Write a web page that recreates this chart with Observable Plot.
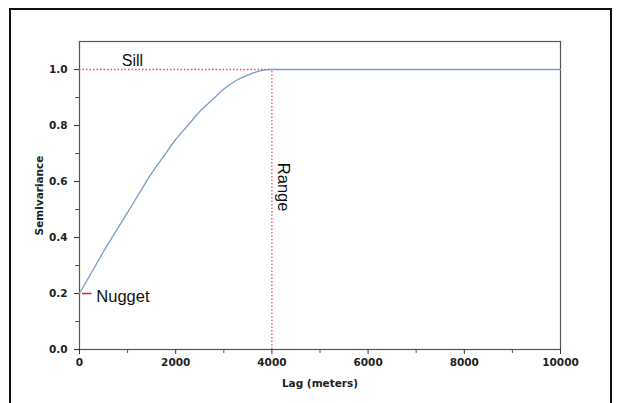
<!DOCTYPE html>
<html><head><meta charset="utf-8">
<script src="https://cdn.jsdelivr.net/npm/d3@7"></script>
<script src="https://cdn.jsdelivr.net/npm/@observablehq/plot@0.6"></script>
<style>
body{margin:0;background:#fff;overflow:hidden;}
#wrap{position:relative;width:617px;height:403px;}
#border{position:absolute;left:9px;top:8px;width:603px;height:420px;border:2px solid #111;box-sizing:border-box;pointer-events:none;}
</style></head>
<body><div id="wrap"><div id="border"></div></div>
<script>
// Semivariogram values
const lag = [0, 250, 500, 750, 1000, 1250, 1500, 1750, 2000, 2250, 2500, 2750, 3000, 3250, 3500, 3750, 4000, 10000];
const semivariance = [0.20, 0.275, 0.35, 0.42, 0.49, 0.56, 0.63, 0.69, 0.75, 0.80, 0.85, 0.89, 0.93, 0.96, 0.98, 0.995, 1.0, 1.0];
const xMajor = [0, 2000, 4000, 6000, 8000, 10000];
const xMinor = [1000, 3000, 5000, 7000, 9000];
const yMajor = [0, 0.2, 0.4, 0.6, 0.8, 1.0];
const yMinor = [0.1, 0.3, 0.5, 0.7, 0.9];
const sill = 1.0, range = 4000, nugget = 0.2;

const data = lag.map((x, i) => ({x, y: semivariance[i]}));
const font = "Liberation Sans, Arial, sans-serif";
const boldFont = "DejaVu Sans, Liberation Sans, sans-serif";

const chart = Plot.plot({
  width: 617, height: 403,
  marginLeft: 79, marginRight: 57, marginTop: 41, marginBottom: 54,
  style: {fontFamily: font, background: "transparent"},
  x: {domain: [0, 10000]},
  y: {domain: [0, 1.1]},
  marks: [
    Plot.frame({stroke: "#555", strokeWidth: 1.2}),
    Plot.axisX(xMajor, {tickSize: 5, tickPadding: 4, fontSize: 10.5, fontWeight: "bold", fontFamily: boldFont, fill: "#222", tickFormat: d => String(d), label: "Lag (meters)", labelAnchor: "center", labelArrow: "none", labelOffset: 37, stroke: "#333"}),
    Plot.axisX(xMinor, {tickSize: 4, tickFormat: () => "", label: null, stroke: "#555"}),
    Plot.axisY(yMajor, {tickSize: 5, tickPadding: 7, fontSize: 10.5, fontWeight: "bold", fontFamily: boldFont, fill: "#222", tickFormat: d => d.toFixed(1), label: "Semivariance", labelAnchor: "center", labelArrow: "none", labelOffset: 44, stroke: "#333"}),
    Plot.axisY(yMinor, {tickSize: 4, tickFormat: () => "", label: null, stroke: "#555"}),
    Plot.ruleY([sill], {x1: 0, x2: range, stroke: "#e8506a", strokeWidth: 1.3, strokeDasharray: "1.5,2"}),
    Plot.ruleX([range], {y1: 0, y2: sill, stroke: "#e8506a", strokeWidth: 1.3, strokeDasharray: "1.5,2"}),
    Plot.ruleY([nugget], {x1: 60, x2: 260, stroke: "#c0283a", strokeWidth: 1.5}),
    Plot.line(data, {x: "x", y: "y", curve: "monotone-x", stroke: "#7d9cc6", strokeWidth: 1.3}),
    Plot.text(["Sill"], {x: [1100], y: [sill], dy: -9, fontSize: 16, fill: "#111", textAnchor: "middle"}),
    Plot.text(["Nugget"], {x: [350], y: [nugget], dy: 3, fontSize: 16.5, fill: "#111", textAnchor: "start"}),
    Plot.text(["Range"], {x: [range], y: [0.58], dx: 11, fontSize: 16.5, fill: "#111", rotate: 90})
  ]
});
document.getElementById("wrap").appendChild(chart);
chart.style.position = "absolute";
chart.style.left = "0"; chart.style.top = "0";
</script>
</body></html>
